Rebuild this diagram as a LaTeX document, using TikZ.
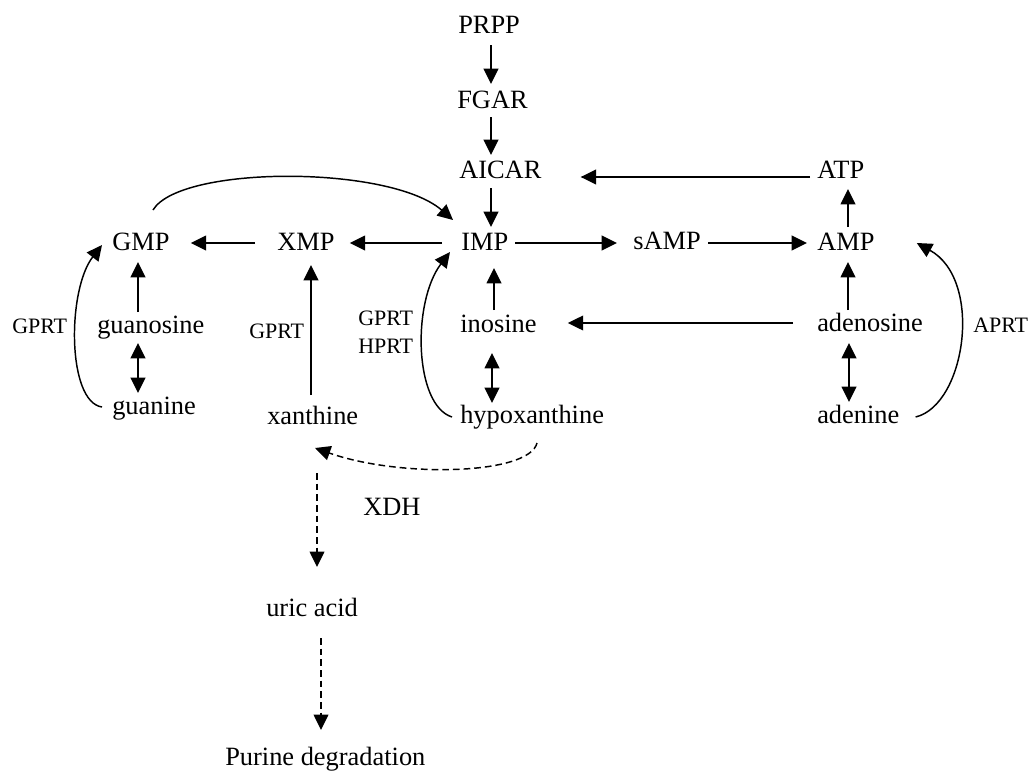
\documentclass[tikz,border=0pt]{standalone}
\usepackage{fontspec}
\setmainfont{Liberation Serif}
\usetikzlibrary{arrows.meta,calc}
\begin{document}
\begin{tikzpicture}[x=0.75pt,y=-0.75pt,
  mol/.style={anchor=base west,inner sep=0pt,font=\fontsize{19.8}{22}\selectfont},
  enz/.style={anchor=base west,inner sep=0pt,font=\fontsize{16.5}{19}\selectfont},
  tip/.style={-{Triangle[length=11.5pt,width=11pt]}},
  arr/.style={line width=1.2pt,tip},
  darr/.style={line width=1.2pt,{Triangle[length=11.5pt,width=11pt]}-{Triangle[length=11.5pt,width=11pt]}},
  curv/.style={line width=1.1pt,tip},
  dsh/.style={line width=1.1pt,dash pattern=on 5pt off 3pt,tip},
]
\useasboundingbox (0,0) rectangle (1032,771);
% columns
\coordinate (cA) at (491,0);
\coordinate (cB) at (494,0);
\coordinate (cC) at (492,0);
\coordinate (cD) at (848,0);
\coordinate (cE) at (849,0);
\coordinate (cL) at (138,0);
\coordinate (cX) at (311,0);
\coordinate (cU) at (317,0);
\coordinate (cV) at (321,0);
% molecules
\node[mol] (prpp) at (458,33) {PRPP};
\node[mol] (fgar) at (457,108) {FGAR};
\node[mol] (aicar) at (459,178) {AICAR};
\node[mol] (atp) at (817,178) {ATP};
\node[mol] (gmp) at (112,250) {GMP};
\node[mol] (xmp) at (277,250) {XMP};
\node[mol] (imp) at (461,250) {IMP};
\node[mol] (samp) at (633,249) {sAMP};
\node[mol] (amp) at (817,250) {AMP};
\node[mol] (guanosine) at (97,333) {guanosine};
\node[mol] (inosine) at (460,332) {inosine};
\node[mol] (adenosine) at (817,331) {adenosine};
\node[mol] (guanine) at (112,414) {guanine};
\node[mol] (xanthine) at (267,424) {xanthine};
\node[mol] (hypo) at (460,423) {hypoxanthine};
\node[mol] (adenine) at (817,423) {adenine};
\node[mol] (xdh) at (363,515) {XDH};
\node[mol] (uric) at (266,616) {uric acid};
\node[mol] (purine) at (225,765) {Purine degradation};
% enzyme labels
\node[enz] (gprtL) at (12,333) {GPRT};
\node[enz] (gprtX) at (249,338) {GPRT};
\node[enz] (gprtM) at (358,325) {GPRT};
\node[enz] (hprtM) at (358,353) {HPRT};
\node[enz] (aprt) at (973,332) {APRT};
% vertical main chain
\draw[arr] ($(prpp.base -| cA)+(0,12)$) -- ($(fgar.base -| cA)+(0,-24)$);
\draw[arr] ($(fgar.base -| cA)+(0,9)$) -- ($(aicar.base -| cA)+(0,-23)$);
\draw[arr] ($(aicar.base -| cA)+(0,10)$) -- ($(imp.base -| cA)+(0,-23)$);
% ATP -> AICAR
\draw[arr] ($(atp.base west)+(-7,-1)$) -- ($(aicar.base east)+(39,-1)$);
% IMP row
\draw[arr] ($(imp.base west)+(-19,-7)$) -- ($(xmp.base east)+(15,-7)$);
\draw[arr] ($(xmp.base west)+(-22,-7)$) -- ($(gmp.base east)+(21,-7)$);
\draw[arr] ($(imp.base east)+(7,-7)$) -- ($(samp.base west)+(-16,-6)$);
\draw[arr] ($(samp.base east)+(7,-6)$) -- ($(amp.base west)+(-10,-7)$);
% AMP column
\draw[arr] ($(amp.base -| cD)+(0,-23)$) -- ($(atp.base -| cD)+(0,11)$);
\draw[arr] ($(adenosine.base -| cD)+(0,-21)$) -- ($(amp.base -| cD)+(0,12)$);
\draw[darr] ($(adenosine.base -| cE)+(0,12)$) -- ($(adenine.base -| cE)+(0,-21)$);
\draw[arr] ($(adenosine.base west)+(-24,-8)$) -- ($(inosine.base east)+(31,-9)$);
\draw[curv] ($(adenine.base east)+(16,-6)$) .. controls +(50,-12) and +(67,37) .. ($(amp.base east)+(42,-7)$);
% IMP column
\draw[arr] ($(inosine.base -| cB)+(0,-22)$) -- ($(imp.base -| cB)+(0,18)$);
\draw[darr] ($(inosine.base -| cC)+(0,21)$) -- ($(hypo.base -| cC)+(0,-20)$);
\draw[curv] ($(hypo.base west)+(-8,-6)$) .. controls +(-38,-12) and +(-38,50) .. ($(imp.base west)+(-11,2)$);
% GMP column
\draw[arr] ($(guanosine.base -| cL)+(0,-21)$) -- ($(gmp.base -| cL)+(0,12)$);
\draw[darr] ($(guanosine.base -| cL)+(0,10)$) -- ($(guanine.base -| cL)+(0,-21)$);
\draw[curv] ($(guanine.base west)+(-10,-7)$) .. controls +(-35,-5) and +(-35,45) .. ($(gmp.base west)+(-10,-5)$);
\draw[curv] ($(gmp.base west)+(41,-40)$) .. controls +(27,-45) and +(-63,-55) .. ($(imp.base west)+(-8,-30)$);
% xanthine
\draw[arr] ($(xanthine.base -| cX)+(0,-29)$) -- ($(xmp.base -| cX)+(0,15)$);
% degradation
\draw[dsh] ($(hypo.base west)+(77,20)$) .. controls +(-8,32) and +(85,30) .. ($(xanthine.base west)+(48,24)$);
\draw[dsh] ($(xanthine.base -| cU)+(0,49)$) -- ($(uric.base -| cU)+(0,-49)$);
\draw[dsh] ($(uric.base -| cV)+(0,22)$) -- ($(purine.base -| cV)+(0,-35)$);
\end{tikzpicture}
\end{document}
